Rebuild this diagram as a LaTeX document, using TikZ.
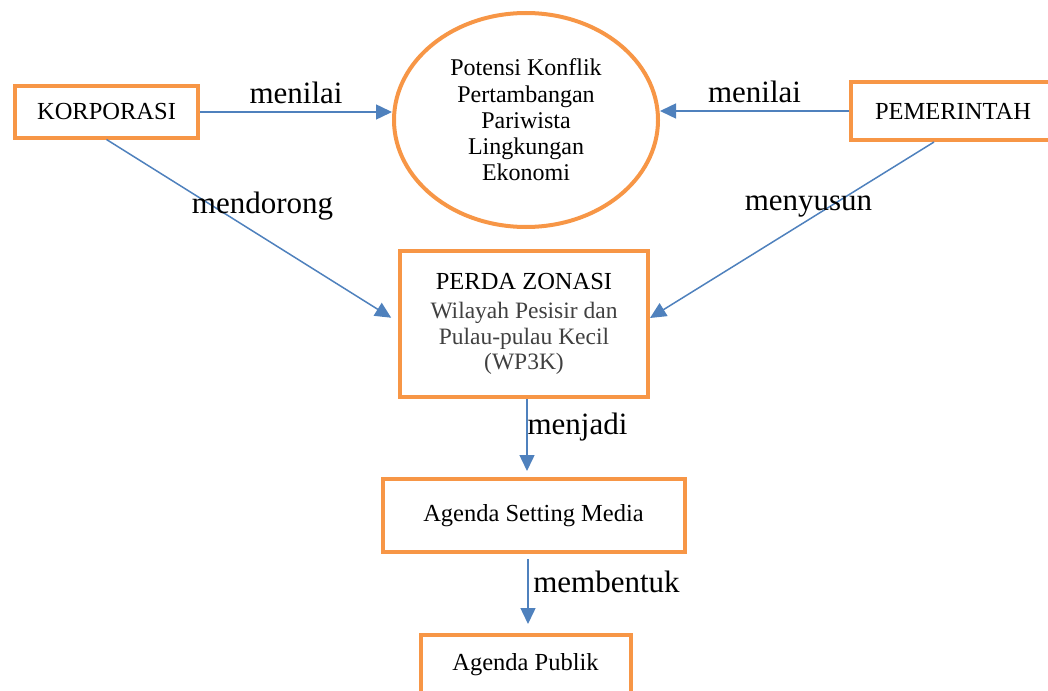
\documentclass[tikz,border=0pt]{standalone}
\usepackage{fontspec}
\setmainfont{Liberation Serif}
\usepackage{tikz}
\usetikzlibrary{shapes.geometric, arrows.meta}
\definecolor{boxorange}{HTML}{F79646}
\definecolor{arrowblue}{HTML}{4F81BD}

\begin{document}
\begin{tikzpicture}[x=1pt, y=1pt, >={Triangle[length=16pt, width=15pt]},
        box/.style={draw=boxorange, line width=4pt, rectangle, fill=white, font=\fontsize{24.5}{27}\selectfont},
        lbl/.style={font=\fontsize{31}{34}\selectfont, inner sep=0pt},
        arr/.style={->, draw=arrowblue, fill=arrowblue, line width=1.5pt}]
        \useasboundingbox (0,0) rectangle (1048,-690);

        \node (korporasi) at (106.5,-112) [box, minimum width=183pt, minimum height=51pt] {KORPORASI};
        \node (potensi) at (526,-120) [ellipse, draw=boxorange, line width=4pt, minimum width=264pt, minimum height=214pt, align=center, font=\fontsize{24}{26.3}\selectfont] {Potensi Konflik\\ Pertambangan\\ Pariwista\\ Lingkungan\\ Ekonomi};
        \node (pemerintah) at (953,-111) [box, minimum width=204pt, minimum height=58pt] {PEMERINTAH};
        \node (perda) at (524,-324) [box, minimum width=248pt, minimum height=146pt, align=center, font=\fontsize{24.5}{25.5}\selectfont] {PERDA ZONASI\\[4pt] {\fontsize{23.5}{25.5}\selectfont\color{black!75}Wilayah Pesisir dan}\\ {\fontsize{23.5}{25.5}\selectfont\color{black!75}Pulau-pulau Kecil}\\ {\fontsize{23.5}{25.5}\selectfont\color{black!75}(WP3K)}};
        \node (media) at (533.5,-515.5) [box, minimum width=302pt, minimum height=73pt] {Agenda Setting Media};
        \node (publik) at (525.5,-665) [box, minimum width=210pt, minimum height=60pt] {Agenda Publik};

        \draw[arr] (korporasi.east) -- node[lbl, above=7pt] {menilai} (korporasi.east -| potensi.west);
        \draw[arr] (pemerintah.west) -- node[lbl, above=7pt] {menilai} (pemerintah.west -| potensi.east);
        \draw[arr, shorten >=8pt] (korporasi.south) -- ([yshift=2pt]perda.west);
        \draw[arr] ([xshift=-19pt]pemerintah.south) -- ([yshift=6pt]perda.east);
        \draw[arr, shorten >=6pt] ([xshift=3pt]perda.south) -- ([xshift=-6.5pt]media.north);
        \draw[arr, shorten <=5pt, shorten >=9pt] ([xshift=-5.5pt]media.south) -- ([xshift=2.5pt]publik.north);

        \node (lmendorong) at (262.5,-213) [lbl, anchor=base] {mendorong};
        \node (lmenyusun) at (808.5,-210) [lbl, anchor=base] {menyusun};
        \node (lmenjadi) at (577.5,-434) [lbl, anchor=base] {menjadi};
        \node (lmembentuk) at (606.5,-592) [lbl, anchor=base] {membentuk};
    \end{tikzpicture}
\end{document}
